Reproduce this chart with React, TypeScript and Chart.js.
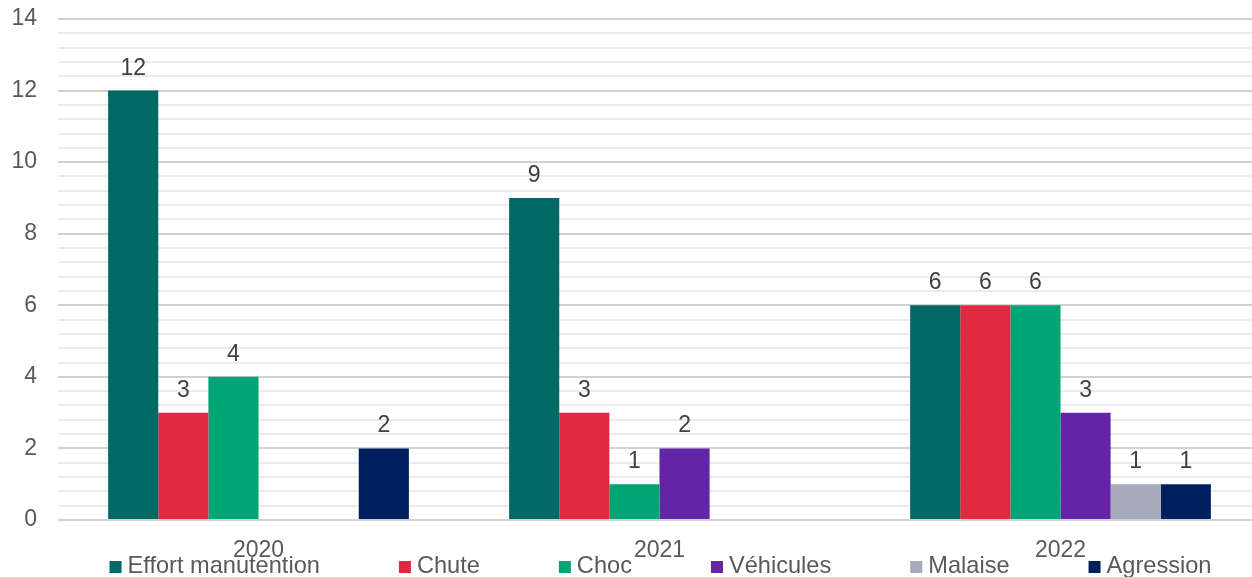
import React, { useEffect, useRef } from "react";
import { Chart, registerables } from "chart.js";

Chart.register(...registerables);

// Accidents by cause, per year
const years = ["2020", "2021", "2022"];
const effortManutention = [12, 9, 6];
const chute = [3, 3, 6];
const choc = [4, 1, 6];
const vehicules = [0, 2, 3];
const malaise = [0, 0, 1];
const agression = [2, 0, 1];

const seriesNames = ["Effort manutention", "Chute", "Choc", "Véhicules", "Malaise", "Agression"];
const seriesValues = [effortManutention, chute, choc, vehicules, malaise, agression];
const seriesColors = ["#006865", "#E02A41", "#00A475", "#6324A6", "#A5ABBA", "#001F5F"];

// Y axis: 0..14, labels every 2, light minor grid every 0.4
const yMin = 0;
const yMax = 14;
const yMinorStep = 0.4;
const yMajorStep = 2;

const FONT_FAMILY = '"Liberation Sans", Arial, sans-serif';
const TEXT_COLOR = "#595959";

const isMajor = (v: number) => Math.abs(v / yMajorStep - Math.round(v / yMajorStep)) < 1e-6;

// Value above each non-empty bar
const valueLabels = {
  id: "valueLabels",
  afterDatasetsDraw(chart: any) {
    const ctx = chart.ctx as CanvasRenderingContext2D;
    ctx.save();
    ctx.font = `23px ${FONT_FAMILY}`;
    ctx.fillStyle = "#404040";
    ctx.textAlign = "center";
    ctx.textBaseline = "alphabetic";
    chart.data.datasets.forEach((ds: any, i: number) => {
      const meta = chart.getDatasetMeta(i);
      meta.data.forEach((bar: any, j: number) => {
        const v = ds.data[j];
        if (!v) return;
        ctx.fillText(String(v), bar.x, bar.y - 16);
      });
    });
    ctx.restore();
  },
};

// Single-row legend with wide spacing along the bottom edge
const legendRow = {
  id: "legendRow",
  afterDraw(chart: any) {
    const ctx = chart.ctx as CanvasRenderingContext2D;
    const area = chart.chartArea;
    const box = 12;
    const gapText = 6;
    const gapItem = 79;
    ctx.save();
    ctx.font = `23.6px ${FONT_FAMILY}`;
    const items = chart.data.datasets.map((ds: any) => ({
      label: ds.label as string,
      color: ds.backgroundColor as string,
      width: box + gapText + ctx.measureText(ds.label).width,
    }));
    const total =
      items.reduce((s: number, it: any) => s + it.width, 0) + gapItem * (items.length - 1);
    let x = (area.left + area.right) / 2 - total / 2 + 1;
    const baseline = chart.height - 4;
    const boxTop = chart.height - 16;
    ctx.textAlign = "left";
    ctx.textBaseline = "alphabetic";
    items.forEach((it: any) => {
      ctx.fillStyle = it.color;
      ctx.fillRect(x, boxTop, box, box);
      ctx.fillStyle = TEXT_COLOR;
      ctx.fillText(it.label, x + box + gapText, baseline);
      x += it.width + gapItem;
    });
    ctx.restore();
  },
};

export default function App() {
  const canvasRef = useRef<HTMLCanvasElement | null>(null);

  useEffect(() => {
    const canvas = canvasRef.current;
    if (!canvas) return;
    const chart = new Chart(canvas, {
      type: "bar",
      data: {
        labels: years,
        datasets: seriesNames.map((name, i) => ({
          label: name,
          data: seriesValues[i],
          backgroundColor: seriesColors[i],
          borderWidth: 0,
          barPercentage: 1,
          categoryPercentage: 0.75,
        })),
      },
      options: {
        responsive: false,
        animation: false,
        layout: { padding: { top: 19, bottom: 14, left: 0, right: 0 } },
        plugins: {
          legend: { display: false },
          tooltip: { enabled: false },
        },
        scales: {
          x: {
            grid: { display: false },
            border: { display: false },
            ticks: {
              color: TEXT_COLOR,
              font: { family: FONT_FAMILY, size: 23 },
              padding: 9,
              maxRotation: 0,
            },
            afterFit(scale: any) {
              scale.height = 43;
            },
          },
          y: {
            min: yMin,
            max: yMax,
            border: { display: false },
            grid: {
              drawTicks: false,
              lineWidth: 2,
              color: (c: any) =>
                c.tick && isMajor(c.tick.value) ? "#d2d2d2" : "#ebebeb",
            },
            ticks: {
              stepSize: yMinorStep,
              autoSkip: false,
              padding: 21,
              color: TEXT_COLOR,
              font: { family: FONT_FAMILY, size: 23 },
              callback: (v: any) => (isMajor(Number(v)) ? String(Math.round(Number(v))) : ""),
            },
            afterFit(scale: any) {
              scale.width = 58;
              scale.paddingTop = 0;
              scale.paddingBottom = 0;
            },
          },
        },
      },
      plugins: [valueLabels, legendRow],
    });
    return () => chart.destroy();
  }, []);

  return (
    <div
      style={{
        position: "absolute",
        left: 0,
        top: 0,
        width: 1252,
        height: 577,
        overflow: "hidden",
        background: "#ffffff",
      }}
    >
      <canvas ref={canvasRef} width={1261} height={577} style={{ display: "block" }} />
    </div>
  );
}
